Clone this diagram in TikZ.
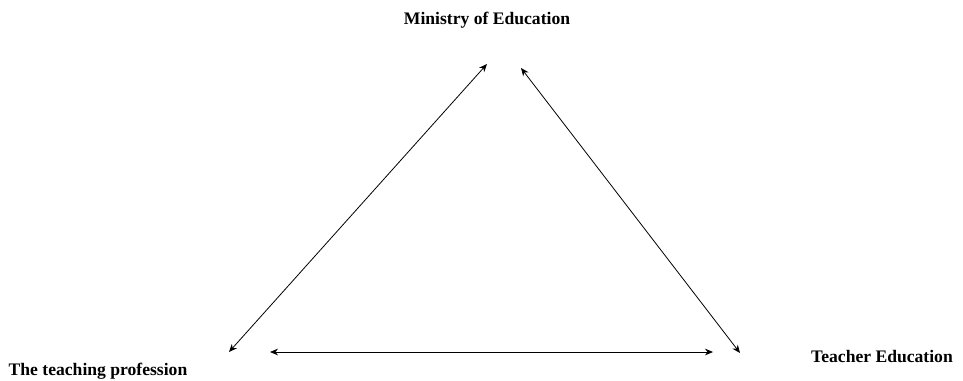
\documentclass[tikz,border=0pt]{standalone}
\usepackage{fontspec}
\setmainfont{Liberation Serif}
\usetikzlibrary{arrows,arrows.meta}

\begin{document}
\begin{tikzpicture}[
    x=0.75pt, y=0.75pt,
    corner/.style={font=\fontsize{13.2}{15}\selectfont\bfseries, inner sep=0pt},
    link/.style={{Stealth[length=6pt,width=5pt]}-{Stealth[length=6pt,width=5pt]}, semithick}
]
\useasboundingbox (0,0) rectangle (963,380);

% Labels
\node[corner] (ministry) at (487,360) {Ministry of Education};
\node[corner] (profession) at (98,9) {The teaching profession};
\node[corner] (teacher) at (882,24) {Teacher Education};

% Arrow ends
\coordinate (ministry-left) at (487,316);
\coordinate (ministry-right) at (521,312);
\coordinate (profession-top) at (229,28);
\coordinate (profession-right) at (270,28);
\coordinate (teacher-top) at (740,27);
\coordinate (teacher-left) at (713,28);

% Links
\draw[link] (profession-top) -- (ministry-left);
\draw[link] (ministry-right) -- (teacher-top);
\draw[link] (profession-right) -- (teacher-left);

\end{tikzpicture}
\end{document}
